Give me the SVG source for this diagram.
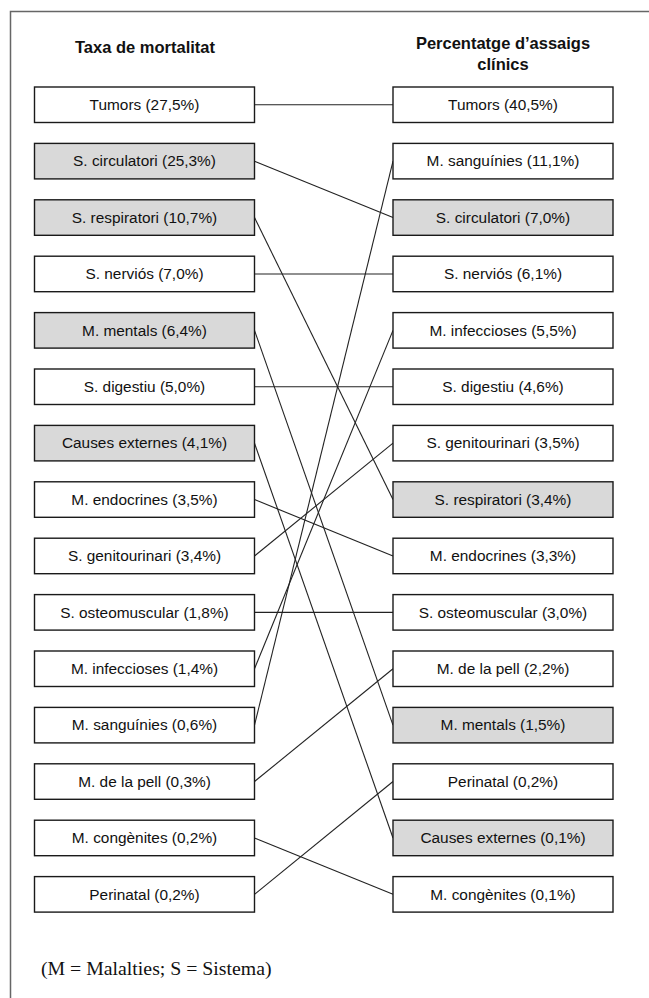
<svg xmlns="http://www.w3.org/2000/svg" width="649" height="998" viewBox="0 0 649 998">
<style>
.box{stroke:#1a1a1a;stroke-width:1.4;fill:#fff}
.g{fill:#d9d9d9}
.t{font-family:"Liberation Sans",Arial,sans-serif;font-size:15.4px;fill:#111;text-anchor:middle}
.h{font-family:"Liberation Sans",Arial,sans-serif;font-size:16.5px;font-weight:bold;fill:#111;text-anchor:middle}
.c line{stroke:#222;stroke-width:1.1}
</style>
<rect width="649" height="998" fill="#fff"/>
<path d="M10.5 998 V11.5 H649" fill="none" stroke="#666" stroke-width="1.5"/>
<g id="headers">
<text class="h" x="145" y="53">Taxa de mortalitat</text>
<text class="h" x="503" y="49">Percentatge d’assaigs</text>
<text class="h" x="503" y="70">clínics</text>
</g>
<g id="connectors" class="c">
<line x1="254.5" y1="104.75" x2="393" y2="104.75"/>
<line x1="254.5" y1="161.15" x2="393" y2="217.55"/>
<line x1="254.5" y1="217.55" x2="393" y2="499.55"/>
<line x1="254.5" y1="273.95" x2="393" y2="273.95"/>
<line x1="254.5" y1="330.35" x2="393" y2="725.15"/>
<line x1="254.5" y1="386.75" x2="393" y2="386.75"/>
<line x1="254.5" y1="443.15" x2="393" y2="837.95"/>
<line x1="254.5" y1="499.55" x2="393" y2="555.95"/>
<line x1="254.5" y1="555.95" x2="393" y2="443.15"/>
<line x1="254.5" y1="612.35" x2="393" y2="612.35"/>
<line x1="254.5" y1="668.75" x2="393" y2="330.35"/>
<line x1="254.5" y1="725.15" x2="393" y2="161.15"/>
<line x1="254.5" y1="781.55" x2="393" y2="668.75"/>
<line x1="254.5" y1="837.95" x2="393" y2="894.35"/>
<line x1="254.5" y1="894.35" x2="393" y2="781.55"/>
</g>
<g id="L0"><rect class="box" x="34.5" y="87" width="220" height="35.5"/><text class="t" x="144.5" y="110">Tumors (27,5%)</text></g>
<g id="L1"><rect class="box g" x="34.5" y="143.4" width="220" height="35.5"/><text class="t" x="144.5" y="166.4">S. circulatori (25,3%)</text></g>
<g id="L2"><rect class="box g" x="34.5" y="199.8" width="220" height="35.5"/><text class="t" x="144.5" y="222.8">S. respiratori (10,7%)</text></g>
<g id="L3"><rect class="box" x="34.5" y="256.2" width="220" height="35.5"/><text class="t" x="144.5" y="279.2">S. nerviós (7,0%)</text></g>
<g id="L4"><rect class="box g" x="34.5" y="312.6" width="220" height="35.5"/><text class="t" x="144.5" y="335.6">M. mentals (6,4%)</text></g>
<g id="L5"><rect class="box" x="34.5" y="369" width="220" height="35.5"/><text class="t" x="144.5" y="392">S. digestiu (5,0%)</text></g>
<g id="L6"><rect class="box g" x="34.5" y="425.4" width="220" height="35.5"/><text class="t" x="144.5" y="448.4">Causes externes (4,1%)</text></g>
<g id="L7"><rect class="box" x="34.5" y="481.8" width="220" height="35.5"/><text class="t" x="144.5" y="504.8">M. endocrines (3,5%)</text></g>
<g id="L8"><rect class="box" x="34.5" y="538.2" width="220" height="35.5"/><text class="t" x="144.5" y="561.2">S. genitourinari (3,4%)</text></g>
<g id="L9"><rect class="box" x="34.5" y="594.6" width="220" height="35.5"/><text class="t" x="144.5" y="617.6">S. osteomuscular (1,8%)</text></g>
<g id="L10"><rect class="box" x="34.5" y="651" width="220" height="35.5"/><text class="t" x="144.5" y="674">M. infeccioses (1,4%)</text></g>
<g id="L11"><rect class="box" x="34.5" y="707.4" width="220" height="35.5"/><text class="t" x="144.5" y="730.4">M. sanguínies (0,6%)</text></g>
<g id="L12"><rect class="box" x="34.5" y="763.8" width="220" height="35.5"/><text class="t" x="144.5" y="786.8">M. de la pell (0,3%)</text></g>
<g id="L13"><rect class="box" x="34.5" y="820.2" width="220" height="35.5"/><text class="t" x="144.5" y="843.2">M. congènites (0,2%)</text></g>
<g id="L14"><rect class="box" x="34.5" y="876.6" width="220" height="35.5"/><text class="t" x="144.5" y="899.6">Perinatal (0,2%)</text></g>
<g id="R0"><rect class="box" x="393" y="87" width="220" height="35.5"/><text class="t" x="503" y="110">Tumors (40,5%)</text></g>
<g id="R1"><rect class="box" x="393" y="143.4" width="220" height="35.5"/><text class="t" x="503" y="166.4">M. sanguínies (11,1%)</text></g>
<g id="R2"><rect class="box g" x="393" y="199.8" width="220" height="35.5"/><text class="t" x="503" y="222.8">S. circulatori (7,0%)</text></g>
<g id="R3"><rect class="box" x="393" y="256.2" width="220" height="35.5"/><text class="t" x="503" y="279.2">S. nerviós (6,1%)</text></g>
<g id="R4"><rect class="box" x="393" y="312.6" width="220" height="35.5"/><text class="t" x="503" y="335.6">M. infeccioses (5,5%)</text></g>
<g id="R5"><rect class="box" x="393" y="369" width="220" height="35.5"/><text class="t" x="503" y="392">S. digestiu (4,6%)</text></g>
<g id="R6"><rect class="box" x="393" y="425.4" width="220" height="35.5"/><text class="t" x="503" y="448.4">S. genitourinari (3,5%)</text></g>
<g id="R7"><rect class="box g" x="393" y="481.8" width="220" height="35.5"/><text class="t" x="503" y="504.8">S. respiratori (3,4%)</text></g>
<g id="R8"><rect class="box" x="393" y="538.2" width="220" height="35.5"/><text class="t" x="503" y="561.2">M. endocrines (3,3%)</text></g>
<g id="R9"><rect class="box" x="393" y="594.6" width="220" height="35.5"/><text class="t" x="503" y="617.6">S. osteomuscular (3,0%)</text></g>
<g id="R10"><rect class="box" x="393" y="651" width="220" height="35.5"/><text class="t" x="503" y="674">M. de la pell (2,2%)</text></g>
<g id="R11"><rect class="box g" x="393" y="707.4" width="220" height="35.5"/><text class="t" x="503" y="730.4">M. mentals (1,5%)</text></g>
<g id="R12"><rect class="box" x="393" y="763.8" width="220" height="35.5"/><text class="t" x="503" y="786.8">Perinatal (0,2%)</text></g>
<g id="R13"><rect class="box g" x="393" y="820.2" width="220" height="35.5"/><text class="t" x="503" y="843.2">Causes externes (0,1%)</text></g>
<g id="R14"><rect class="box" x="393" y="876.6" width="220" height="35.5"/><text class="t" x="503" y="899.6">M. congènites (0,1%)</text></g>
<text x="41" y="975" font-family="'Liberation Serif','Times New Roman',serif" font-size="19.8" fill="#111">(M = Malalties; S = Sistema)</text>
</svg>
